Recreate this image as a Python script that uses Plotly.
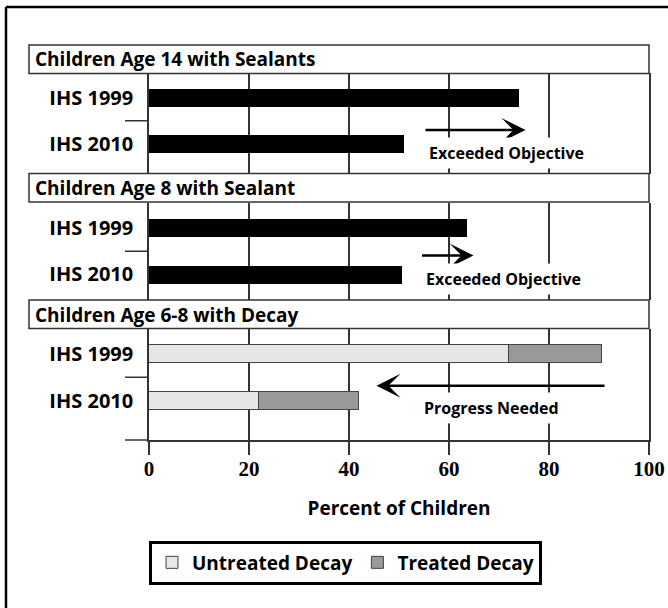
import plotly.graph_objects as go
from plotly.subplots import make_subplots

# ---------------- data ----------------
groups = ["IHS 1999", "IHS 2010"]
section_titles = ["Children Age 14 with Sealants",
                  "Children Age 8 with Sealant",
                  "Children Age 6-8 with Decay"]
sealant_age14 = [74, 51]
sealant_age8 = [63.5, 50.5]
untreated_decay = [72, 22]
treated_decay = [18.5, 20]
series_names = ["Untreated Decay", "Treated Decay"]
note_texts = ["Exceeded Objective", "Exceeded Objective", "Progress Needed"]
x_ticks = [0, 20, 40, 60, 80, 100]
x_title = "Percent of Children"

# ---------------- layout helpers ----------------
W, H = 668, 608
L, R, T, B = 149, 19, 73, 168
PW, PH = W - L - R, H - T - B


def px(x):
    return (x - L) / PW


def py(y):
    return (H - B - y) / PH


SANS = "Open Sans"
SERIF = "Liberation Serif"
DARK = "#333333"

fig = make_subplots(rows=3, cols=1, shared_xaxes=False)

bar_w = 0.387
fig.add_trace(go.Bar(x=sealant_age14, y=groups, orientation="h", width=bar_w,
                     marker=dict(color="black", line=dict(width=0)),
                     showlegend=False), row=1, col=1)
fig.add_trace(go.Bar(x=sealant_age8, y=groups, orientation="h", width=bar_w,
                     marker=dict(color="black", line=dict(width=0)),
                     showlegend=False), row=2, col=1)
fig.add_trace(go.Bar(x=untreated_decay, y=groups, orientation="h", width=bar_w,
                     name=series_names[0],
                     marker=dict(color="#e6e6e6", line=dict(color="#444444", width=1))),
              row=3, col=1)
fig.add_trace(go.Bar(x=treated_decay, y=groups, orientation="h", width=bar_w,
                     name=series_names[1],
                     marker=dict(color="#999999", line=dict(color="#444444", width=1))),
              row=3, col=1)

# domains (paper) and category ranges per row
domains = [[py(173.5), 1.0], [py(300), py(202.5)], [0.0, py(329)]]
yranges = [[1.634, -0.527], [1.549, -0.548], [1.849, -0.538]]

for i in range(3):
    r = i + 1
    fig.update_yaxes(row=r, col=1, type="category", categoryorder="array",
                     categoryarray=groups, range=yranges[i], domain=domains[i],
                     showline=True, linecolor=DARK, linewidth=1.5, mirror=True,
                     ticks="", showgrid=False, zeroline=False,
                     ticklabelstandoff=10,
                     tickfont=dict(family=SANS, size=20, color="black", weight="bold"))
    fig.update_xaxes(row=r, col=1, range=[0, 100], tickvals=x_ticks,
                     showgrid=True, gridcolor=DARK, gridwidth=1.5,
                     zeroline=False, showticklabels=(r == 3),
                     ticks="outside" if r == 3 else "", ticklen=13,
                     tickwidth=1.5, tickcolor=DARK,
                     showline=(r == 3), linecolor=DARK, linewidth=1.5,
                     tickfont=dict(family=SERIF, size=21, color="black", weight="bold"))

fig.update_xaxes(row=3, col=1, ticklabelstandoff=-4,
                 title=dict(text=x_title, standoff=22,
                            font=dict(family=SANS, size=19, color="black", weight="bold")))

shapes = []
annotations = []

# outer frame (only left and top edges visible)
shapes.append(dict(type="line", xref="paper", yref="paper", x0=px(6), x1=px(6),
                   y0=py(7), y1=py(720), line=dict(color="black", width=2.5)))
shapes.append(dict(type="line", xref="paper", yref="paper", x0=px(6), x1=px(760),
                   y0=py(7), y1=py(7), line=dict(color="black", width=2.5)))

# section title boxes
box_tops = [45, 173.5, 300]
for t, title in zip(box_tops, section_titles):
    shapes.append(dict(type="rect", xref="paper", yref="paper", x0=px(29), x1=1.0,
                       y0=py(t + 28.5), y1=py(t), fillcolor="white",
                       line=dict(color=DARK, width=1.5), layer="above"))
    annotations.append(dict(xref="paper", yref="paper", x=px(33), y=py(t + 14.5),
                            xanchor="left", yanchor="middle", text=title, showarrow=False,
                            font=dict(family=SANS, size=19, color="black", weight="bold")))

# category separator ticks
for yr in ["y", "y2", "y3"]:
    shapes.append(dict(type="line", xref="paper", yref=yr, x0=px(125), x1=0,
                       y0=0.5, y1=0.5, line=dict(color=DARK, width=1.5)))
# left extension of the bottom axis line
shapes.append(dict(type="line", xref="paper", yref="paper", x0=px(125), x1=0,
                   y0=0, y1=0, line=dict(color=DARK, width=1.5)))

# arrows + notes
tot1999 = untreated_decay[0] + treated_decay[0]
tot2010 = untreated_decay[1] + treated_decay[1]
arrow_specs = [
    ("x", "y", sealant_age14[1] + 4, sealant_age14[0] + 1.3, 0.70, 1.20),
    ("x2", "y2", sealant_age8[1] + 3.8, sealant_age8[0] + 1.4, 0.59, 1.10),
    ("x3", "y3", tot1999 + 0.9, tot2010 + 3.5, 0.68, 1.17),
]
for (xr, yr, tail, tip, ya, yt), note in zip(arrow_specs, note_texts):
    annotations.append(dict(xref=xr, yref=yr, axref=xr, ayref=yr, x=tip, y=ya,
                            ax=tail, ay=ya, text="", showarrow=True, arrowhead=3,
                            arrowsize=1.6, arrowwidth=2.5, arrowcolor="black",
                            standoff=0, startstandoff=0))
    text_x = min(tail, tip) if xr != "x3" else 54
    annotations.append(dict(xref=xr, yref=yr, x=text_x, y=yt, xanchor="left",
                            yanchor="middle", text=note, showarrow=False,
                            bgcolor="white", borderpad=4,
                            font=dict(family=SANS, size=16, color="black", weight="bold")))

fig.update_layout(
    width=W, height=H,
    margin=dict(l=L, r=R, t=T, b=B, autoexpand=False),
    paper_bgcolor="white", plot_bgcolor="white",
    barmode="stack", bargap=0,
    shapes=shapes, annotations=annotations,
    showlegend=True,
    legend=dict(orientation="h", x=0, xanchor="left", y=py(540.5), yanchor="top",
                bordercolor="black", borderwidth=3, bgcolor="white",
                font=dict(family=SANS, size=19, color="black", weight="bold"),
                traceorder="normal"),
    font=dict(family=SANS, color="black"),
)

fig.write_html("out.html", config={"displayModeBar": False},
               post_script="document.body.style.margin='0px';")
